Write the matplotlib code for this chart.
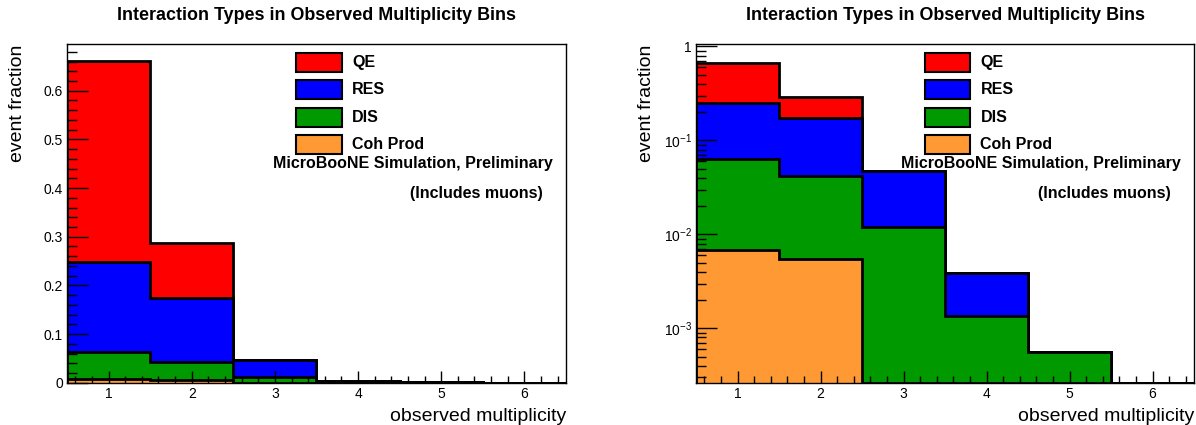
import numpy as np
import matplotlib
matplotlib.use("Agg")
import matplotlib.pyplot as plt
from matplotlib.patches import Rectangle
from matplotlib.ticker import MultipleLocator, LogLocator, FuncFormatter, NullFormatter

plt.rcParams['font.family'] = ['Liberation Sans', 'DejaVu Sans']
plt.rcParams['mathtext.default'] = 'regular'

# observed multiplicity bins (centres 1..6)
bin_edges = [0.5, 1.5, 2.5, 3.5, 4.5, 5.5, 6.5]

# event fraction per interaction type, per bin
coh = [0.0069, 0.0055, 0.0, 0.0, 0.0, 0.0]
dis = [0.0569, 0.0366, 0.0121, 0.00136, 0.000556, 0.0]
res = [0.184, 0.132, 0.0355, 0.00249, 0.0, 0.0]
qe = [0.414, 0.113, 0.0, 0.0, 0.0, 0.0]

labels = ["QE", "RES", "DIS", "Coh Prod"]
colors = ["#ff0000", "#0000ff", "#009900", "#ff9933"]

title = "Interaction Types in Observed Multiplicity Bins"

# stacked: bottom -> top is Coh, DIS, RES, QE
layers = [coh, dis, res, qe]
cums = np.cumsum(np.array(layers), axis=0)
# draw order is top of stack first (QE), down to Coh
stack = [(cums[3], colors[0]), (cums[2], colors[1]), (cums[1], colors[2]), (cums[0], colors[3])]

fig = plt.figure(figsize=(11.96, 4.25), dpi=100)
ax1 = fig.add_axes([0.056, 0.0995, 0.4172, 0.7958])
ax2 = fig.add_axes([0.582, 0.0995, 0.4164, 0.7958])


def draw_panel(ax, logy):
    if logy:
        ymin, ymax = 2.64e-4, 1.05
    else:
        ymin, ymax = 0.0, 0.695
    for vals, c in stack:
        v = np.maximum(vals, ymin) if logy else vals
        ax.stairs(v, bin_edges, baseline=ymin, fill=True, facecolor=c,
                  edgecolor="black", linewidth=2, zorder=2)
    ax.set_axisbelow(False)
    if logy:
        ax.set_yscale("log")
        ax.yaxis.set_major_locator(LogLocator(base=10))
        ax.yaxis.set_minor_locator(LogLocator(base=10, subs=np.arange(2, 10)))
        ax.yaxis.set_minor_formatter(NullFormatter())

        def fmt(y, pos):
            e = int(round(np.log10(y)))
            return "1" if e == 0 else r"$\mathregular{10^{%d}}$" % e
        ax.yaxis.set_major_formatter(FuncFormatter(fmt))
    else:
        ax.yaxis.set_major_locator(MultipleLocator(0.1))
        ax.yaxis.set_minor_locator(MultipleLocator(0.02))
        ax.yaxis.set_major_formatter(FuncFormatter(lambda y, p: "0" if abs(y) < 1e-9 else "%g" % y))
    ax.set_ylim(ymin, ymax)
    ax.set_xlim(0.5, 6.5)
    ax.xaxis.set_major_locator(MultipleLocator(1))
    ax.xaxis.set_minor_locator(MultipleLocator(0.2))

    ax.tick_params(axis="both", which="both", direction="in", top=False, right=False,
                   labelsize=10, pad=3, width=1, color="black")
    ax.tick_params(axis="y", which="major", length=15)
    ax.tick_params(axis="y", which="minor", length=7.5)
    ax.tick_params(axis="x", which="major", length=9)
    ax.tick_params(axis="x", which="minor", length=5)
    for s in ax.spines.values():
        s.set_linewidth(1)
        s.set_zorder(3)

    ax.set_ylabel("event fraction", fontsize=14, loc="top", va="center")
    ax.yaxis.set_label_coords(-0.099, 1.0)
    ax.set_xlabel("observed multiplicity", fontsize=14, loc="right", va="center")
    ax.xaxis.set_label_coords(1.0, -0.101)

    ax.text(0.5, 1.087, title, transform=ax.transAxes, ha="center", va="center",
            fontsize=12.9, fontweight="bold")

    # legend boxes
    for i, (lab, c) in enumerate(zip(labels, colors)):
        yc = 0.947 - i * 0.081
        ax.add_patch(Rectangle((0.459, yc - 0.028), 0.092, 0.056, transform=ax.transAxes,
                               facecolor=c, edgecolor="black", linewidth=1.5, zorder=4))
        ax.text(0.571, yc, lab, transform=ax.transAxes, ha="left", va="center",
                fontsize=11.5, fontweight="bold", zorder=4)

    ax.text(0.693, 0.648, "MicroBooNE Simulation, Preliminary", transform=ax.transAxes,
            ha="center", va="center", fontsize=11.5, fontweight="bold", zorder=4)
    ax.text(0.82, 0.560, "(Includes muons)", transform=ax.transAxes,
            ha="center", va="center", fontsize=11.5, fontweight="bold", zorder=4)


draw_panel(ax1, logy=False)
draw_panel(ax2, logy=True)

fig.savefig("out.png", dpi=100)
